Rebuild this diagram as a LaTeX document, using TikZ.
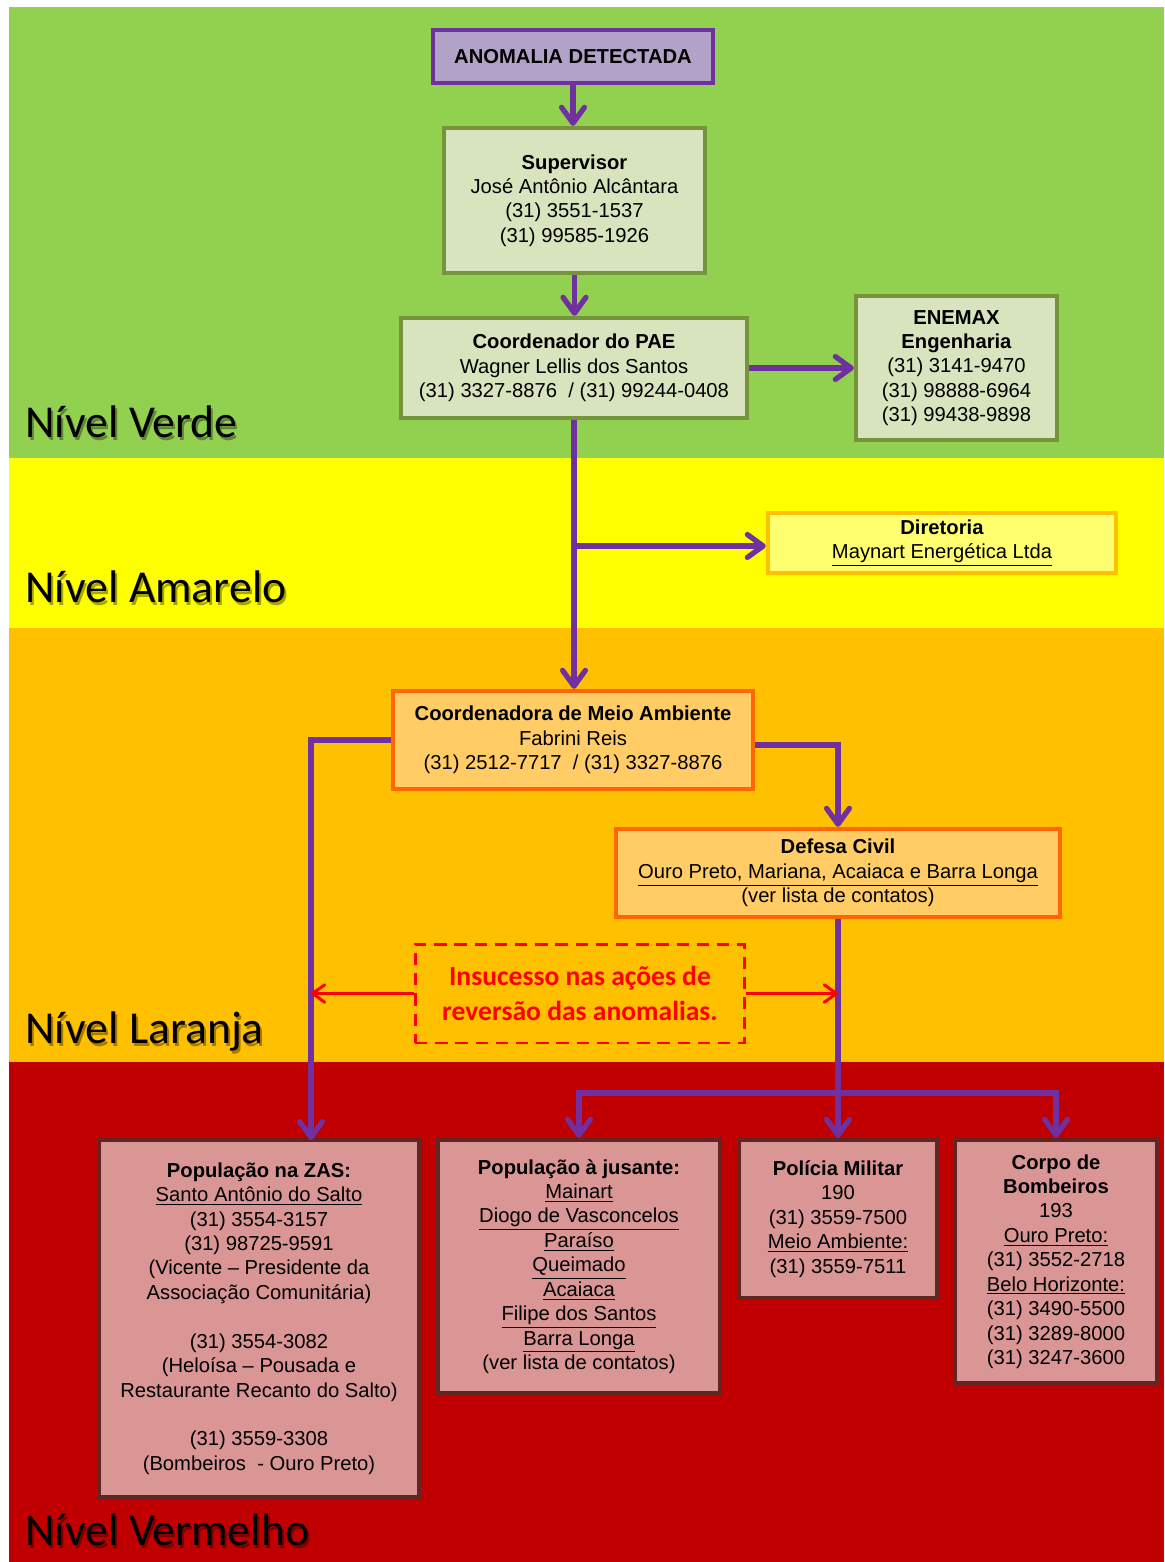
\documentclass[tikz,border=0pt]{standalone}
\usepackage{fontspec}
\setmainfont{Liberation Sans}
\newfontfamily\calib{Carlito}
\usepackage{xcolor}
\usepackage{tikz}
\usetikzlibrary{positioning,arrows.meta}

\definecolor{roxo}{HTML}{7030A0}
\definecolor{lavanda}{HTML}{B3A2C7}
\definecolor{verdeband}{HTML}{92D050}
\definecolor{verdeclaro}{HTML}{D7E4BD}
\definecolor{verdeesc}{HTML}{77933C}
\definecolor{amareloband}{HTML}{FFFF00}
\definecolor{amareloclaro}{HTML}{FFFF70}
\definecolor{ambar}{HTML}{FFC000}
\definecolor{laranjaband}{HTML}{FFC000}
\definecolor{laranjaclaro}{HTML}{FFCC66}
\definecolor{laranjaesc}{HTML}{FF6600}
\definecolor{vermelhoband}{HTML}{C00000}
\definecolor{rosa}{HTML}{D99694}
\definecolor{marrom}{HTML}{632523}
\definecolor{alerta}{HTML}{FF0000}

\newcommand{\boxfont}{\fontsize{11.5}{13.9}\selectfont}
\newcommand{\nivelfont}{\calib\fontsize{26}{30}\selectfont}
\newcommand{\alertfont}{\calib\bfseries\fontsize{15.7}{19.8}\selectfont}

\begin{document}
\begin{tikzpicture}[x=0.02cm, y=-0.02cm,
    caixa/.style={line width=2.5pt, align=center, inner sep=0pt, font=\boxfont},
    caixaroxa/.style={caixa, draw=roxo, fill=lavanda},
    caixaverde/.style={caixa, draw=verdeesc, fill=verdeclaro},
    caixaamarela/.style={caixa, draw=ambar, fill=amareloclaro},
    caixalaranja/.style={caixa, draw=laranjaesc, fill=laranjaclaro},
    caixavermelha/.style={caixa, draw=marrom, fill=rosa},
    nivel/.style={anchor=base west, inner sep=0pt, font=\nivelfont},
    sombra/.style={nivel, text=black, opacity=0.35},
    fluxo/.style={draw=roxo, line width=3pt, -{Straight Barb[round,length=9pt,width=13pt]}},
    linha/.style={draw=roxo, line width=3pt},
    aviso/.style={draw=alerta, line width=1.7pt, -{Straight Barb[round,length=7pt,width=10pt]}}
  ]
  \useasboundingbox (0,0) rectangle (1164,1562);
  \fill[white] (0,0) rectangle (1164,1562);

  % Faixas dos niveis
  \fill[verdeband] (9,7) rectangle (1164,458);
  \fill[amareloband] (9,458) rectangle (1164,628);
  \fill[laranjaband] (9,628) rectangle (1164,1062);
  \fill[vermelhoband] (9,1062) rectangle (1164,1562);

  \node[sombra] (sverde) at (27,440) {Nível Verde};
  \node[sombra] (samarelo) at (27,605) {Nível Amarelo};
  \node[sombra] (slaranja) at (27,1046) {Nível Laranja};
  \node[sombra] (svermelho) at (27,1548) {Nível Vermelho};
  \node[nivel] (nverde) at (25,437) {Nível Verde};
  \node[nivel] (namarelo) at (25,602) {Nível Amarelo};
  \node[nivel] (nlaranja) at (25,1043) {Nível Laranja};
  \node[nivel] (nvermelho) at (25,1545) {Nível Vermelho};

  % Nivel verde
  \node[caixaroxa, minimum width=5.6cm, minimum height=1.06cm] (anomalia) at (573,56.5)
    {\textbf{ANOMALIA DETECTADA}};
  \node[caixaverde, minimum width=5.22cm, minimum height=2.9cm] (superv) at (574.5,200.5)
    {\textbf{Supervisor}\\José Antônio Alcântara\\(31) 3551-1537\\(31) 99585-1926};
  \node[caixaverde, minimum width=6.92cm, minimum height=2.0cm] (coordpae) at (574,368)
    {\textbf{Coordenador do PAE}\\Wagner Lellis dos Santos\\(31) 3327-8876 \ / (31) 99244-0408};
  \node[caixaverde, minimum width=4.02cm, minimum height=2.88cm] (enemax) at (956.5,368)
    {\textbf{ENEMAX}\\\textbf{Engenharia}\\(31) 3141-9470\\(31) 98888-6964\\(31) 99438-9898};

  % Nivel amarelo
  \node[caixaamarela, minimum width=6.96cm, minimum height=1.2cm] (diretoria) at (942,543)
    {\textbf{Diretoria}\\\underline{Maynart Energética Ltda}};

  % Nivel laranja
  \node[caixalaranja, minimum width=7.2cm, minimum height=1.96cm] (coordma) at (573,740)
    {\textbf{Coordenadora de Meio Ambiente}\\Fabrini Reis\\(31) 2512-7717 \ / (31) 3327-8876};
  \node[caixalaranja, minimum width=8.88cm, minimum height=1.76cm] (defesa) at (838,873)
    {\textbf{Defesa Civil}\\\underline{Ouro Preto, Mariana, Acaiaca e Barra Longa}\\(ver lista de contatos)};
  \node[draw=alerta, line width=1.7pt, dash pattern=on 7pt off 4.5pt, minimum width=6.6cm,
    minimum height=1.98cm, align=center, inner sep=0pt, font=\alertfont, text=alerta] (insucesso) at (580,993.5)
    {Insucesso nas ações de\\reversão das anomalias.};

  % Nivel vermelho
  \node[caixavermelha, minimum width=6.4cm, minimum height=7.14cm] (zas) at (259,1318.5)
    {\textbf{População na ZAS:}\\\underline{Santo Antônio do Salto}\\(31) 3554-3157\\(31) 98725-9591\\
     (Vicente -- Presidente da\\Associação Comunitária)\\[13.9pt]
     (31) 3554-3082\\(Heloísa -- Pousada e\\Restaurante Recanto do Salto)\\[13.9pt]
     (31) 3559-3308\\(Bombeiros \ - Ouro Preto)};
  \node[caixavermelha, minimum width=5.64cm, minimum height=5.06cm] (jusante) at (579,1266.5)
    {\textbf{População à jusante:}\\\underline{Mainart}\\\underline{Diogo de Vasconcelos}\\\underline{Paraíso}\\
     \underline{Queimado}\\\underline{Acaiaca}\\\underline{Filipe dos Santos}\\\underline{Barra Longa}\\(ver lista de contatos)};
  \node[caixavermelha, minimum width=3.96cm, minimum height=3.16cm] (policia) at (838,1219)
    {\textbf{Polícia Militar}\\190\\(31) 3559-7500\\\underline{Meio Ambiente:}\\(31) 3559-7511};
  \node[caixavermelha, minimum width=4.04cm, minimum height=4.86cm] (bombeiros) at (1056,1261.5)
    {\textbf{Corpo de}\\\textbf{Bombeiros}\\193\\\underline{Ouro Preto:}\\(31) 3552-2718\\\underline{Belo Horizonte:}\\
     (31) 3490-5500\\(31) 3289-8000\\(31) 3247-3600};

  % Ligacoes
  \coordinate (zasin) at (311,1140);
  \coordinate (barra) at (838,1093);
  \draw[fluxo] (anomalia.south) -- (anomalia.south |- superv.north);
  \draw[fluxo] (superv.south) -- (superv.south |- coordpae.north);
  \draw[fluxo] (coordpae.east) -- (enemax.west);
  \draw[fluxo] (coordpae.south) -- (coordpae.south |- coordma.north);
  \draw[fluxo] ([yshift=-0.06cm]coordpae.south |- diretoria.west) -- ([yshift=-0.06cm]diretoria.west);
  \draw[fluxo] (coordma.west) -| (zasin);
  \draw[fluxo] ([yshift=-0.1cm]coordma.east) -| (defesa.north);
  \draw[fluxo] (defesa.south) -- (policia.north);
  \draw[linha, {Straight Barb[round,length=9pt,width=13pt]}-{Straight Barb[round,length=9pt,width=13pt]}]
    (jusante.north) |- (barra) -| (bombeiros.north);
  \draw[aviso] (insucesso.west) -- (insucesso.west -| zasin);
  \draw[aviso] (insucesso.east) -- (insucesso.east -| defesa.south);
\end{tikzpicture}
\end{document}
